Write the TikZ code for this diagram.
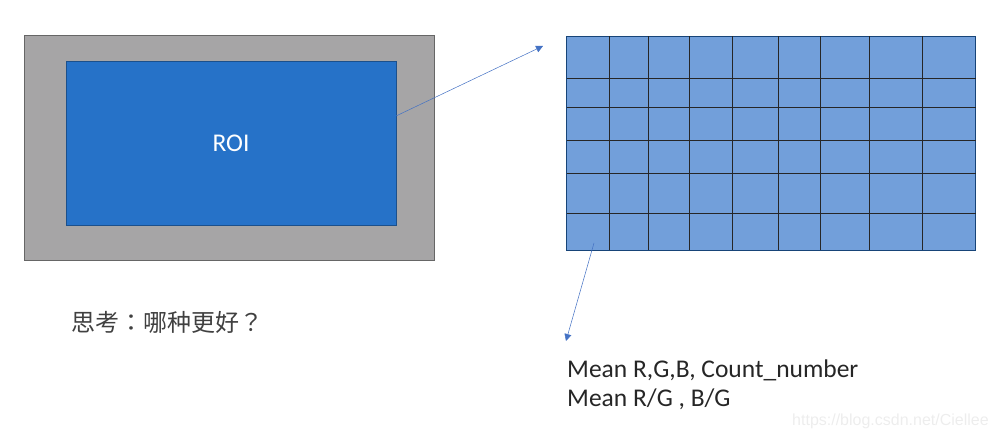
\documentclass[tikz,border=0pt]{standalone}
\usepackage{fontspec}
\setmainfont{Carlito}
\newfontfamily\cjk{Noto Sans CJK TC}
\newfontfamily\wmfont{Liberation Sans}
\usetikzlibrary{arrows.meta}

\definecolor{roigray}{HTML}{A6A5A6}
\definecolor{roiblue}{HTML}{2672C8}
\definecolor{cellblue}{HTML}{729FDA}
\definecolor{arrowblue}{HTML}{4472C4}

\begin{document}
\begin{tikzpicture}[x=1pt, y=-1pt,
				frame/.style={draw=gray!80!black, fill=roigray, line width=0.6pt},
				roibox/.style={draw=roiblue!70!black, fill=roiblue, line width=0.6pt},
				cellbox/.style={draw=roiblue!60!black, fill=cellblue, line width=0.8pt},
				gridline/.style={draw=black!85, line width=0.7pt},
				pointer/.style={draw=arrowblue, line width=0.5pt, -{Triangle[length=7pt, width=7pt]}},
				stattext/.style={anchor=base west, inner sep=0pt, font=\fontsize{25.5}{29}\selectfont, text=black!85}
				]
				\useasboundingbox (0,0) rectangle (996,438);
				% image with ROI
				\draw[frame] (24,35) rectangle (434,260);
				\draw[roibox] (66,61) rectangle (396,225);
				\node[text=white, font=\fontsize{25.5}{29}\selectfont] (roi) at (231,143) {ROI};
				\coordinate (roiedge) at (396,116);
				% block grid
				\draw[cellbox] (566.5,36.5) rectangle (975.5,250.5);
				\foreach \x in {609,648,689,732,778,820,869,922} {
					\draw[gridline] (\x,36.5) -- (\x,250.5);
				}
				\foreach \y in {78,107,140,173,213} {
					\draw[gridline] (566.5,\y) -- (975.5,\y);
				}
				\coordinate (gridtop) at (543,46);
				\coordinate (cell) at (594,243);
				\coordinate (stats) at (566,341);
				% arrows
				\draw[pointer] (roiedge) -- (gridtop);
				\draw[pointer] (cell) -- (stats);
				% texts
				\node[anchor=base west, inner sep=0pt, font=\cjk\fontsize{24}{29}\selectfont, text=black!75] (question) at (71,331) {思考：哪种更好？};
				\node[stattext] (meanrgb) at (567,377) {Mean R,G,B, Count\_number};
				\node[stattext] (meanratio) at (567,406) {Mean R/G , B/G};
				\node[anchor=base west, inner sep=0pt, font=\wmfont\fontsize{16}{18}\selectfont, text=black!7] (mark) at (792,425) {https://blog.csdn.net/Ciellee};
			\end{tikzpicture}
\end{document}
